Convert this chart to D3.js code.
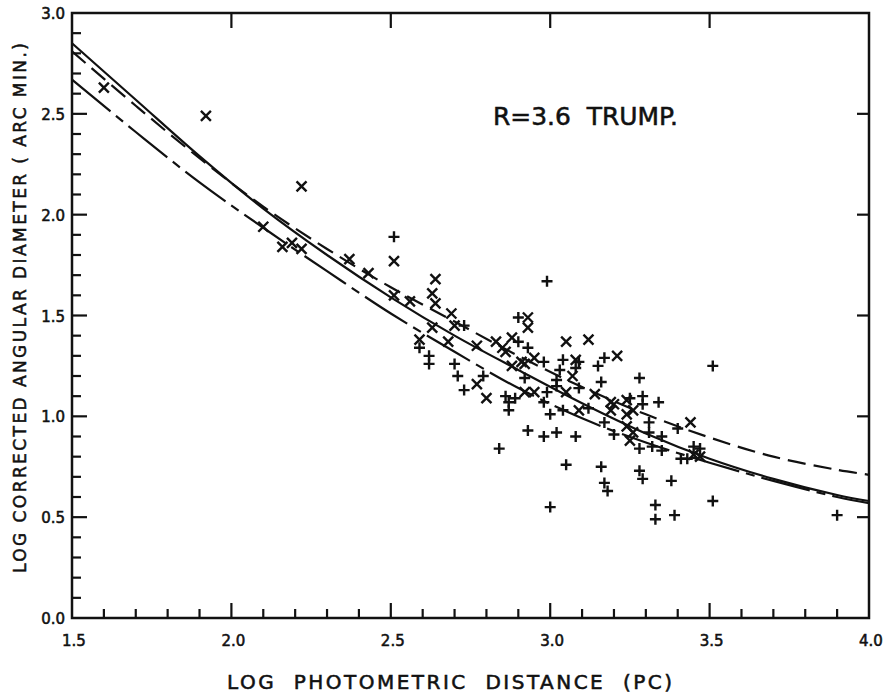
<!DOCTYPE html>
<html><head><meta charset="utf-8">
<script src="https://cdn.jsdelivr.net/npm/d3@7"></script>
<style>
html,body{margin:0;padding:0;background:#fff;}
svg{display:block;}
text{font-family:"DejaVu Sans","Liberation Sans",sans-serif;fill:#111;stroke:#111;stroke-width:0.55px;}
</style></head>
<body>
<script>
// ---- data ----
const xTicks = [1.5, 2.0, 2.5, 3.0, 3.5, 4.0];
const yTicks = [0.0, 0.5, 1.0, 1.5, 2.0, 2.5, 3.0];
const xTickLabels = ["1.5","2.0","2.5","3.0","3.5","4.0"];
const yTickLabels = ["0.0","0.5","1.0","1.5","2.0","2.5","3.0"];

const curveX = [1.5,1.7,1.9,2.1,2.3,2.5,2.7,2.9,3.1,3.3,3.5,3.7,3.9,4.0];
const solidY = [2.85,2.57,2.29,2.03,1.80,1.59,1.40,1.23,1.065,0.915,0.79,0.69,0.61,0.58];
const shortDashY = [2.81,2.54,2.28,2.04,1.83,1.64,1.47,1.30,1.145,1.01,0.895,0.80,0.735,0.71];
const longDashY = [2.67,2.41,2.16,1.935,1.72,1.51,1.32,1.14,0.99,0.87,0.77,0.68,0.60,0.57];

const crossX = [1.60,1.92,2.22,2.10,2.16,2.19,2.22,2.37,2.43,2.51,2.51,2.64,2.63,2.64,2.69,2.70,2.56,2.63,2.59,2.68,2.77,2.77,2.80,2.83,2.85,2.86,2.88,2.93,2.93,2.88,2.91,2.92,2.95,3.05,3.12,3.08,3.07,3.21,3.05,2.92,2.95,3.09,3.14,3.19,3.20,3.24,3.26,3.24,3.19,3.44,3.45,3.47,3.24,3.26,3.25];
const crossY = [2.63,2.49,2.14,1.94,1.84,1.86,1.83,1.78,1.71,1.77,1.60,1.68,1.61,1.56,1.51,1.45,1.57,1.44,1.38,1.37,1.35,1.16,1.09,1.37,1.34,1.32,1.39,1.49,1.44,1.25,1.27,1.26,1.29,1.37,1.38,1.28,1.20,1.30,1.12,1.12,1.12,1.03,1.11,1.07,1.06,1.08,1.03,1.01,1.03,0.97,0.81,0.80,0.95,0.92,0.88];

const plusX = [2.51,2.99,2.73,2.59,2.62,2.62,2.70,2.71,2.73,2.90,2.90,2.93,2.98,3.03,3.04,3.09,3.08,3.17,3.15,3.16,2.92,3.02,3.02,3.09,2.86,2.87,2.87,2.89,2.99,3.00,3.04,2.98,3.12,2.79,3.51,3.28,3.34,3.25,3.29,3.29,3.40,3.31,3.31,3.35,3.28,3.32,3.35,3.45,3.47,3.41,3.43,3.20,3.17,3.16,3.17,3.18,3.28,3.29,3.38,3.33,3.33,3.39,3.51,3.90,2.84,3.00,3.05,3.08,2.93,2.98,3.02];
const plusY = [1.89,1.67,1.45,1.34,1.30,1.26,1.26,1.20,1.13,1.49,1.37,1.34,1.27,1.23,1.28,1.27,1.24,1.29,1.25,1.17,1.19,1.18,1.15,1.14,1.10,1.07,1.03,1.09,1.12,1.01,1.03,1.07,1.04,1.20,1.25,1.19,1.07,1.09,1.10,1.06,0.94,0.97,0.92,0.90,0.84,0.85,0.83,0.85,0.84,0.79,0.79,0.91,0.97,0.75,0.67,0.63,0.73,0.69,0.68,0.56,0.49,0.51,0.58,0.51,0.84,0.55,0.76,0.90,0.93,0.90,0.92];

// ---- layout ----
const W = 889, H = 695;
const L = 72, R = 869, T = 13, B = 618;
const x = d3.scaleLinear().domain([1.5, 4.0]).range([L, R]);
const y = d3.scaleLinear().domain([0, 3.0]).range([B, T]);
const ink = "#111";

const svg = d3.select("body").append("svg").attr("width", W).attr("height", H);

// frame
svg.append("rect").attr("x", L).attr("y", T).attr("width", R - L).attr("height", B - T)
  .attr("fill", "none").attr("stroke", ink).attr("stroke-width", 2.5);

const isMajor = d => Math.abs(d * 2 - Math.round(d * 2)) < 1e-6;
// bottom axis ticks (inside)
const xMinor = d3.range(16, 40).map(d => d / 10);
svg.append("g").selectAll("line").data(xMinor).join("line")
  .attr("x1", d => x(d)).attr("x2", d => x(d))
  .attr("y1", B).attr("y2", d => B - (isMajor(d) ? 15 : 9))
  .attr("stroke", ink).attr("stroke-width", 2.2);
// top axis ticks
svg.append("g").selectAll("line").data(xTicks.slice(1, -1)).join("line")
  .attr("x1", d => x(d)).attr("x2", d => x(d)).attr("y1", T).attr("y2", T + 15)
  .attr("stroke", ink).attr("stroke-width", 2.2);
// left axis ticks
const yMinor = d3.range(1, 30).map(d => d / 10);
svg.append("g").selectAll("line").data(yMinor).join("line")
  .attr("y1", d => y(d)).attr("y2", d => y(d))
  .attr("x1", L).attr("x2", d => L + (isMajor(d) ? 15 : 9))
  .attr("stroke", ink).attr("stroke-width", 2.2);
// right axis ticks
svg.append("g").selectAll("line").data(yTicks.slice(1, -1)).join("line")
  .attr("y1", d => y(d)).attr("y2", d => y(d)).attr("x1", R).attr("x2", R - 12)
  .attr("stroke", ink).attr("stroke-width", 2.2);

// tick labels
svg.append("g").selectAll("text").data(xTicks).join("text")
  .attr("x", d => x(d) + 2).attr("y", 646).attr("text-anchor", "middle")
  .attr("font-size", 15).text((d, i) => xTickLabels[i]);
svg.append("g").selectAll("text").data(yTicks).join("text")
  .attr("x", 65).attr("y", d => y(d) + 6).attr("text-anchor", "end")
  .attr("font-size", 15).text((d, i) => yTickLabels[i]);

// axis titles
svg.append("text").attr("x", 227).attr("y", 689).attr("font-size", 20)
  .attr("textLength", 445).attr("lengthAdjust", "spacing")
  .style("white-space", "pre").text("LOG  PHOTOMETRIC  DISTANCE  (PC)");
svg.append("text").attr("transform", "translate(26,573) rotate(-90)")
  .attr("font-size", 17).attr("textLength", 530).attr("lengthAdjust", "spacing")
  .style("white-space", "pre").text("LOG CORRECTED ANGULAR DIAMETER ( ARC MIN.)");

// annotation
svg.append("text").attr("x", 493).attr("y", 125).attr("font-size", 24)
  .attr("textLength", 185).attr("lengthAdjust", "spacingAndGlyphs")
  .style("white-space", "pre").text("R=3.6  TRUMP.");

// curves
const plot = svg.append("g");
const line = d3.line().x(d => x(d[0])).y(d => y(d[1])).curve(d3.curveCatmullRom);
const curves = [
  {ys: solidY, dash: null},
  {ys: shortDashY, dash: "18,8"},
  {ys: longDashY, dash: "50,7,9,7"}
];
curves.forEach(c => {
  plot.append("path").datum(curveX.map((v, i) => [v, c.ys[i]]))
    .attr("d", line).attr("fill", "none").attr("stroke", ink)
    .attr("stroke-width", 2.2).attr("stroke-dasharray", c.dash);
});

// markers
const s = 5;
plot.append("g").selectAll("path").data(crossX.map((v, i) => [v, crossY[i]])).join("path")
  .attr("d", d => { const cx = x(d[0]), cy = y(d[1]);
    return `M${cx - s},${cy - s}L${cx + s},${cy + s}M${cx - s},${cy + s}L${cx + s},${cy - s}`; })
  .attr("stroke", ink).attr("stroke-width", 2.4).attr("fill", "none");
const p = 5.5;
plot.append("g").selectAll("path").data(plusX.map((v, i) => [v, plusY[i]])).join("path")
  .attr("d", d => { const cx = x(d[0]), cy = y(d[1]);
    return `M${cx - p},${cy}L${cx + p},${cy}M${cx},${cy - p}L${cx},${cy + p}`; })
  .attr("stroke", ink).attr("stroke-width", 2.4).attr("fill", "none");
</script>
</body></html>
